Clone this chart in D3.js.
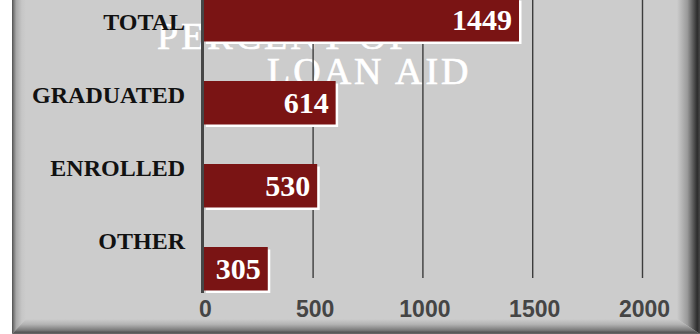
<!DOCTYPE html>
<html>
<head>
<meta charset="utf-8">
<script src="https://cdn.jsdelivr.net/npm/d3@7"></script>
<style>
  html, body { margin: 0; padding: 0; background: #ffffff; }
  svg { display: block; }
</style>
</head>
<body>
<div id="chart"></div>
<script>
// Loan aid counts by student status
const categories = ["TOTAL", "GRADUATED", "ENROLLED", "OTHER"];
const values = [1449, 614, 530, 305];
const tickValues = [0, 500, 1000, 1500, 2000];
const titleLines = ["PERCENT OF", "LOAN AID"];

const W = 700, H = 334;
const svg = d3.select("#chart").append("svg")
  .attr("width", W).attr("height", H);

const defs = svg.append("defs");
function gradient(id, x1, y1, x2, y2, stops) {
  const g = defs.append("linearGradient").attr("id", id)
    .attr("gradientUnits", "userSpaceOnUse")
    .attr("x1", x1).attr("y1", y1).attr("x2", x2).attr("y2", y2);
  stops.forEach(([o, c]) => g.append("stop").attr("offset", o).attr("stop-color", c));
}
gradient("bevelLeft", 12, 0, 26, 0, [[0, "#4f4f4f"], [0.12, "#777"], [0.3, "#a8a8a8"], [0.7, "#c6c6c6"], [1, "#cccccc"]]);
gradient("bevelRight", 677, 0, 700, 0, [[0, "#cccccc"], [0.45, "#9a9a9a"], [0.72, "#555"], [0.88, "#2c2c2c"], [1, "#474747"]]);
gradient("bevelBottom", 0, 319, 0, 334, [[0, "#cccccc"], [0.35, "#b4b4b4"], [0.75, "#7a7a7a"], [0.88, "#555"], [1, "#6a6a6a"]]);

// Panel with bevelled frame
svg.append("rect").attr("x", 12).attr("y", 0).attr("width", 688).attr("height", 334).attr("fill", "#cccccc");
svg.append("polygon").attr("points", "12,0 26,0 26,319 12,334").attr("fill", "url(#bevelLeft)");
svg.append("polygon").attr("points", "677,0 700,0 700,334 677,319").attr("fill", "url(#bevelRight)");
svg.append("polygon").attr("points", "12,334 26,319 677,319 700,334").attr("fill", "url(#bevelBottom)");

// Scales
const x = d3.scaleLinear().domain([0, 2000]).range([203.3, 642.5]);
const yBar = d3.scaleBand().domain(categories).range([-20.5, 311.5])
  .paddingInner(0.446).paddingOuter(0.223);
const yLabel = d3.scaleBand().domain(categories).range([-14, 278]);

const shadow = 2.5;

// Title (sits behind the grid and bars)
const title = svg.append("g").attr("font-family", "'Liberation Serif', 'Times New Roman', serif")
  .attr("font-size", 38).attr("fill", "#ffffff")
  .attr("stroke", "#ffffff").attr("stroke-width", 0.7)
  .attr("letter-spacing", 3);
title.append("text").attr("x", 157).attr("y", 49).text(titleLines[0]);
title.append("text").attr("x", 267).attr("y", 84).text(titleLines[1]);

// Vertical gridlines
svg.append("g").selectAll("line")
  .data(tickValues.filter(d => d > 0))
  .join("line")
  .attr("x1", d => x(d)).attr("x2", d => x(d))
  .attr("y1", 0).attr("y2", 278)
  .attr("stroke", "#3c3c3c").attr("stroke-width", 1.4);

// Bars: white edge on right/bottom, dark red face
const bars = svg.append("g").selectAll("g").data(categories).join("g");
bars.append("rect")
  .attr("x", x(0) + shadow)
  .attr("y", d => yBar(d) + shadow)
  .attr("width", (d, i) => x(values[i]) - x(0) - shadow)
  .attr("height", yBar.bandwidth() - shadow)
  .attr("fill", "#ffffff");
bars.append("rect")
  .attr("x", x(0))
  .attr("y", d => yBar(d))
  .attr("width", (d, i) => x(values[i]) - x(0) - shadow)
  .attr("height", yBar.bandwidth() - shadow)
  .attr("fill", "#7a1414");

// Value labels inside the bar ends
bars.append("text")
  .attr("x", (d, i) => x(values[i]) - shadow - 7)
  .attr("y", d => yBar(d) + (yBar.bandwidth() - shadow) / 2 + 10)
  .attr("text-anchor", "end")
  .attr("font-family", "'Liberation Serif', 'Times New Roman', serif")
  .attr("font-weight", "bold").attr("font-size", 30)
  .attr("fill", "#ffffff")
  .text((d, i) => values[i]);

// Zero axis line
svg.append("line")
  .attr("x1", x(0) - 0.8).attr("x2", x(0) - 0.8)
  .attr("y1", 0).attr("y2", yBar(categories[categories.length - 1]) + yBar.bandwidth())
  .attr("stroke", "#464646").attr("stroke-width", 3);

// Category labels
svg.append("g").selectAll("text").data(categories).join("text")
  .attr("x", 185)
  .attr("y", d => yLabel(d) + yLabel.bandwidth() / 2 + 7.9)
  .attr("text-anchor", "end")
  .attr("font-family", "'Liberation Serif', 'Times New Roman', serif")
  .attr("font-weight", "bold").attr("font-size", 24)
  .attr("fill", "#111111")
  .text(d => d);

// X axis tick labels
const xAxis = d3.axisBottom(x).tickValues(tickValues).tickFormat(d3.format("d"))
  .tickSize(0).tickPadding(0);
const axisG = svg.append("g").attr("transform", "translate(1.5,0)").call(xAxis);
axisG.select(".domain").remove();
axisG.selectAll("text")
  .attr("y", 317).attr("dy", null)
  .attr("font-family", "'Liberation Sans', Arial, sans-serif")
  .attr("font-weight", "bold").attr("font-size", 23)
  .attr("fill", "#454545");
</script>
</body>
</html>
